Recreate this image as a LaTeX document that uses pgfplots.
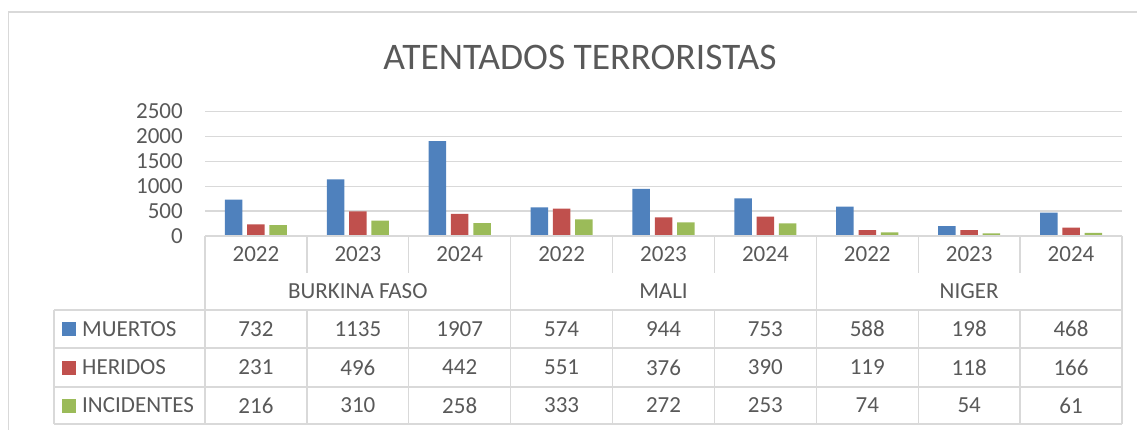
\documentclass[border=0pt]{standalone}
\usepackage{pgfplots}
\pgfplotsset{compat=1.18}
\usepackage{pgfplotstable}
\usepackage{fontspec}
\setmainfont{Carlito}
\definecolor{txt}{HTML}{595959}
\definecolor{grd}{HTML}{D9D9D9}
\definecolor{cM}{HTML}{4F81BD}
\definecolor{cH}{HTML}{C0504D}
\definecolor{cI}{HTML}{9BBB59}
\pgfkeys{/pgf/number format/.cd, 1000 sep={}, assume math mode=true}

\pgfplotstableread{
x   m    h   i
0.5 732  231 216
1.5 1135 496 310
2.5 1907 442 258
3.5 574  551 333
4.5 944  376 272
5.5 753  390 253
6.5 588  119 74
7.5 198  118 54
8.5 468  166 61
}\data

\newcommand{\tfont}{\fontsize{23}{27}\selectfont}

\begin{document}
\begin{tikzpicture}[x=1pt,y=1pt]
\useasboundingbox (0,0) rectangle (1137,430);
\draw[grd, line width=1.3pt] (8.5,0) -- (8.5,418) -- (1137,418);
\node[text=txt, font=\fontsize{37.5}{42}\selectfont, inner sep=0pt] at (580,373) {ATENTADOS TERRORISTAS};
\begin{axis}[
  at={(205pt,194pt)}, anchor=south west,
  scale only axis, width=917pt, height=124.5pt,
  xmin=0, xmax=9, ymin=0, ymax=2500,
  clip=false,
  axis line style={draw=none},
  ytick={0,500,...,2500},
  ymajorgrids, grid style={grd, line width=1.3pt},
  major tick length=0pt,
  yticklabel style={anchor=east, inner sep=0pt, xshift=-22pt, text=txt, font=\tfont},
  xtick={0.5,1.5,...,8.5},
  xticklabels={2022,2023,2024,2022,2023,2024,2022,2023,2024},
  xticklabel style={anchor=center, inner sep=0pt, yshift=-18.5pt, text=txt, font=\tfont},
]
\addplot[ybar, bar width=17.5pt, bar shift=-22.3pt, fill=cM, draw=none] table[x=x, y=m] {\data};
\addplot[ybar, bar width=17.5pt, bar shift=0pt, fill=cH, draw=none] table[x=x, y=h] {\data};
\addplot[ybar, bar width=17.5pt, bar shift=22.3pt, fill=cI, draw=none] table[x=x, y=i] {\data};

\addplot[draw=none, mark=none, nodes near coords, point meta=explicit, nodes near coords align=center,
  every node near coord/.append style={anchor=center, inner sep=0pt, yshift=-93pt, text=txt, font=\tfont}]
  table[x=x, y expr=0, meta=m] {\data};
\addplot[draw=none, mark=none, nodes near coords, point meta=explicit, nodes near coords align=center,
  every node near coord/.append style={anchor=center, inner sep=0pt, yshift=-131.5pt, text=txt, font=\tfont}]
  table[x=x, y expr=0, meta=h] {\data};
\addplot[draw=none, mark=none, nodes near coords, point meta=explicit, nodes near coords align=center,
  every node near coord/.append style={anchor=center, inner sep=0pt, yshift=-169.5pt, text=txt, font=\tfont}]
  table[x=x, y expr=0, meta=i] {\data};

\node[text=txt, font=\tfont, inner sep=0pt, yshift=-55.5pt] at (axis cs:1.5,0) {BURKINA FASO};
\node[text=txt, font=\tfont, inner sep=0pt, yshift=-55.5pt] at (axis cs:4.5,0) {MALI};
\node[text=txt, font=\tfont, inner sep=0pt, yshift=-55.5pt] at (axis cs:7.5,0) {NIGER};
\end{axis}

% data table grid
\begin{scope}[grd, line width=1.3pt]
\draw (205,194) -- (1122,194);
\foreach \yy in {120,82,43,6} \draw (54,\yy) -- (1122,\yy);
\foreach \i in {0,...,9} \draw ({205+101.889*\i},194) -- ({205+101.889*\i},157);
\foreach \i in {0,3,6,9} \draw ({205+101.889*\i},157) -- ({205+101.889*\i},120);
\foreach \i in {0,...,9} \draw ({205+101.889*\i},120) -- ({205+101.889*\i},6);
\draw (54,120) -- (54,6);
\end{scope}

% legend keys
\node[anchor=west, inner sep=0pt, text=txt, font=\tfont] at (62,101) {\textcolor{cM}{\rule{14pt}{14pt}}\hspace{6pt}MUERTOS};
\node[anchor=west, inner sep=0pt, text=txt, font=\tfont] at (62,62.5) {\textcolor{cH}{\rule{14pt}{14pt}}\hspace{6pt}HERIDOS};
\node[anchor=west, inner sep=0pt, text=txt, font=\tfont] at (62,24.5) {\textcolor{cI}{\rule{14pt}{14pt}}\hspace{6pt}INCIDENTES};
\end{tikzpicture}
\end{document}
